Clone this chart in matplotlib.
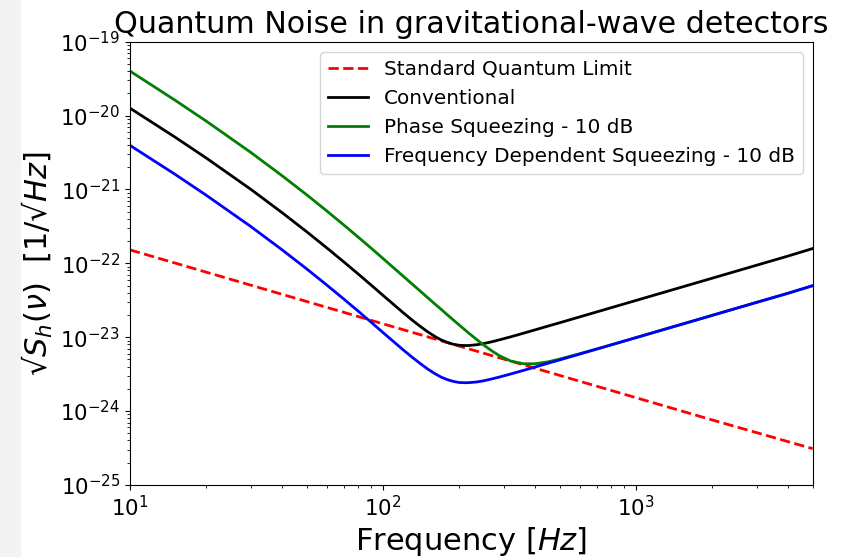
import numpy as np
import matplotlib
matplotlib.use('Agg')
from matplotlib import pyplot as plt
from matplotlib.patches import Rectangle

# valores
freq = [10, 15, 20, 30, 40, 50, 60, 70, 80, 90, 100, 110, 120, 130, 140, 150,
        160, 170, 180, 190, 200, 210, 220, 235, 250, 270, 290, 320, 360, 400,
        450, 500, 600, 750, 1000, 1500, 2000, 3000, 4000, 5000]

conventional = [1.259e-20, 5.16e-21, 2.67e-21, 1.007e-21, 4.83e-22, 2.67e-22,
                1.618e-22, 1.047e-22, 7.13e-23, 5.05e-23, 3.69e-23, 2.79e-23,
                2.16e-23, 1.722e-23, 1.413e-23, 1.189e-23, 1.030e-23, 9.18e-24,
                8.47e-24, 8.02e-24, 7.78e-24, 7.71e-24, 7.73e-24, 7.91e-24,
                8.20e-24, 8.69e-24, 9.25e-24, 1.012e-23, 1.135e-23, 1.259e-23,
                1.416e-23, 1.570e-23, 1.884e-23, 2.355e-23, 3.14e-23, 4.71e-23,
                6.28e-23, 9.42e-23, 1.256e-22, 1.585e-22]

phase_sqz = [4.0e-20, 1.63e-20, 8.43e-21, 3.18e-21, 1.527e-21, 8.45e-22,
             5.11e-22, 3.31e-22, 2.25e-22, 1.596e-22, 1.164e-22, 8.75e-23,
             6.74e-23, 5.30e-23, 4.25e-23, 3.45e-23, 2.84e-23, 2.38e-23,
             2.00e-23, 1.706e-23, 1.469e-23, 1.274e-23, 1.114e-23, 9.27e-24,
             7.85e-24, 6.50e-24, 5.57e-24, 4.76e-24, 4.37e-24, 4.37e-24,
             4.65e-24, 5.06e-24, 5.98e-24, 7.41e-24, 9.86e-24, 1.479e-23,
             1.972e-23, 2.96e-23, 3.94e-23, 4.98e-23]

freq_dep_sqz = [3.95e-21, 1.62e-21, 8.37e-22, 3.16e-22, 1.517e-22, 8.39e-23,
                5.08e-23, 3.29e-23, 2.24e-23, 1.586e-23, 1.159e-23, 8.76e-24,
                6.78e-24, 5.41e-24, 4.44e-24, 3.73e-24, 3.23e-24, 2.88e-24,
                2.66e-24, 2.52e-24, 2.44e-24, 2.42e-24, 2.43e-24, 2.48e-24,
                2.57e-24, 2.73e-24, 2.90e-24, 3.18e-24, 3.56e-24, 3.95e-24,
                4.45e-24, 4.93e-24, 5.92e-24, 7.39e-24, 9.86e-24, 1.479e-23,
                1.972e-23, 2.96e-23, 3.94e-23, 4.98e-23]

sql_freq = [10, 20, 50, 100, 200, 500, 1000, 2000, 5000]
sql = [1.52e-22, 7.6e-23, 3.04e-23, 1.52e-23, 7.6e-24, 3.04e-24, 1.52e-24,
       7.6e-25, 3.1e-25]

fig = plt.figure(figsize=(8.5, 5.57), dpi=100)
fig.patches.append(Rectangle((0, 0), 20/850, 1, transform=fig.transFigure,
                             color='#f3f3f3', zorder=-1))
ax = fig.add_axes([0.1529, 0.1293, 0.8032, 0.7959])

ax.loglog(sql_freq, sql, 'r--', lw=2, label='Standard Quantum Limit')
ax.loglog(freq, conventional, 'k', lw=2, label='Conventional')
ax.loglog(freq, phase_sqz, 'g', lw=2, label='Phase Squeezing - 10 dB')
ax.loglog(freq, freq_dep_sqz, 'b', lw=2, label='Frequency Dependent Squeezing - 10 dB')

ax.set_xlim(10, 5000)
ax.set_ylim(1e-25, 1e-19)
ax.set_title('Quantum Noise in gravitational-wave detectors', fontsize=21.7)
ax.set_xlabel('Frequency [$Hz$]', fontsize=22)
ax.set_ylabel('$\u221aS_h(\\nu)$  $[1/\u221aHz]$', fontsize=22)
ax.tick_params(labelsize=15.4)
ax.legend(loc='upper right', fontsize=14.4)

plt.savefig('out.png')
